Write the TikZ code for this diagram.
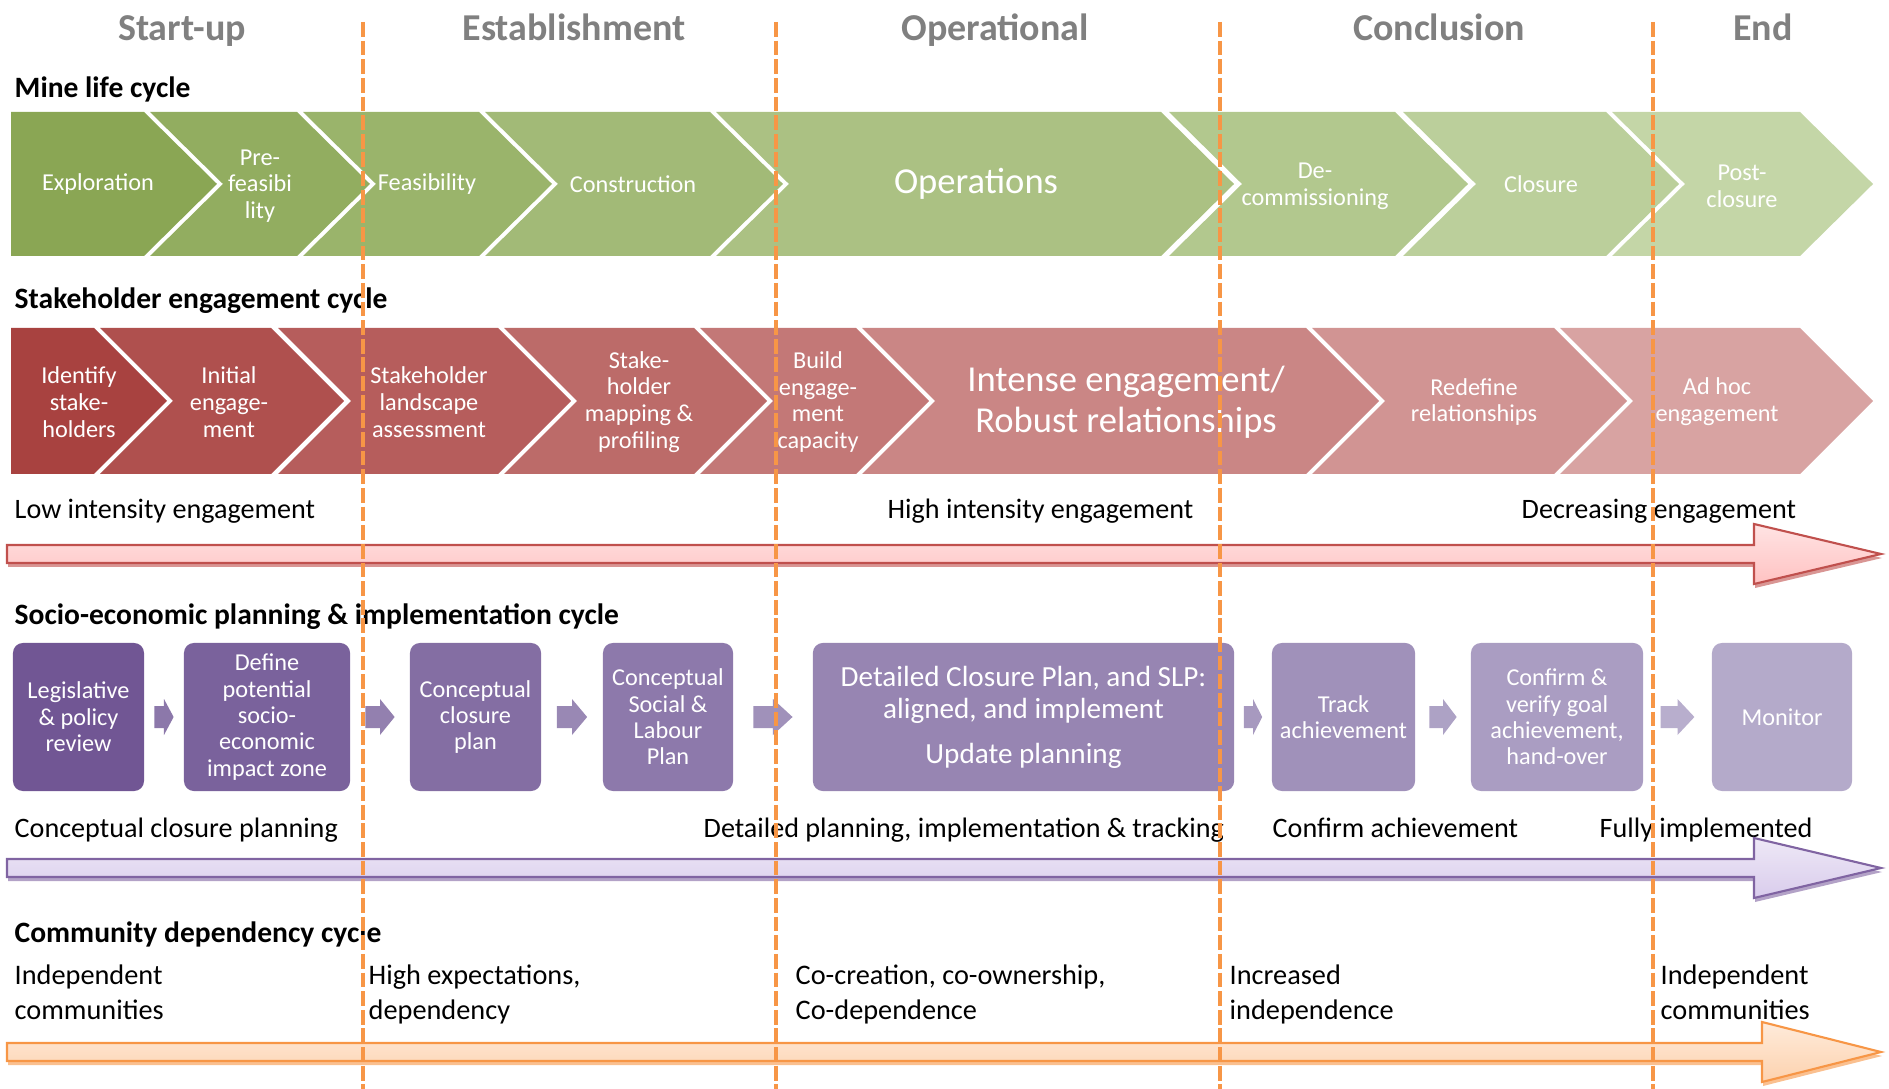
\documentclass[tikz,border=0pt]{standalone}
\usepackage{fontspec}
\setmainfont{Carlito}
\usetikzlibrary{calc}

\definecolor{phasegray}{HTML}{808080}
\definecolor{lineorange}{HTML}{F79646}
\definecolor{gA}{HTML}{8AA654}
\definecolor{gB}{HTML}{C4D6A7}
\definecolor{rA}{HTML}{A84240}
\definecolor{rB}{HTML}{D8A3A2}
\definecolor{pA}{HTML}{715694}
\definecolor{pB}{HTML}{B4AACA}
\definecolor{redfill}{HTML}{FFC2C2}
\definecolor{redline}{HTML}{C0504D}
\definecolor{purfill}{HTML}{D9CCEC}
\definecolor{purline}{HTML}{8064A2}
\definecolor{orafill}{HTML}{FDD2AE}

% chevron: colour, left x, right x, top y, bottom y
\newcommand{\chev}[5]{%
  \fill[#1] (#2,#4) -- (#3,#4) -- ({#3+73},{(#4+#5)/2}) -- (#3,#5) -- (#2,#5)
    -- ({#2+73},{(#4+#5)/2}) -- cycle;}
% first chevron of a band, flat at the left
\newcommand{\chevfirst}[5]{%
  \fill[#1] (#2,#4) -- (#3,#4) -- ({#3+73},{(#4+#5)/2}) -- (#3,#5) -- (#2,#5) -- cycle;}
% small block arrow in the gap between two plan boxes
\newcommand{\steparrow}[3]{%
  \fill[#3] ($(#1.east)!0.25!(#2.west)+(0,-11)$) -- ($(#1.east)!0.5!(#2.west)+(0,-11)$)
    -- ($(#1.east)!0.5!(#2.west)+(0,-18)$) -- ($(#1.east)!0.75!(#2.west)$)
    -- ($(#1.east)!0.5!(#2.west)+(0,18)$) -- ($(#1.east)!0.5!(#2.west)+(0,11)$)
    -- ($(#1.east)!0.25!(#2.west)+(0,11)$) -- cycle;}
% long trend arrow: fill, edge, mid y, head base x
\newcommand{\trend}[4]{%
  \path[fill=#2, opacity=.6, shift={(1,4)}] (7,{#3-9}) -- (#4,{#3-9}) -- (#4,{#3-30})
    -- (1881,#3) -- (#4,{#3+30}) -- (#4,{#3+9}) -- (7,{#3+9}) -- cycle;
  \path[top color=#1!45!white, bottom color=#1, draw=#2, line width=.6pt]
    (7,{#3-9}) -- (#4,{#3-9}) -- (#4,{#3-30})
    -- (1881,#3) -- (#4,{#3+30}) -- (#4,{#3+9}) -- (7,{#3+9}) -- cycle;}

\begin{document}
\begin{tikzpicture}[x=0.01cm, y=-0.01cm,
    phase/.style = {font=\fontsize{10.8}{12}\selectfont\bfseries, text=phasegray, anchor=base, inner sep=0},
    cycle/.style = {font=\fontsize{8.4}{10}\selectfont\bfseries, anchor=base west, inner sep=0},
    note/.style = {font=\fontsize{8}{10}\selectfont, anchor=base west, inner sep=0},
    community/.style = {font=\fontsize{8.05}{10}\selectfont, anchor=north west, align=left, inner sep=0},
    steptext/.style = {font=\fontsize{6.9}{7.6}\selectfont, text=white, align=center, inner sep=0},
    bigtext/.style = {font=\fontsize{10.4}{11.6}\selectfont, text=white, align=center, inner sep=0},
    plan/.style = {rounded corners=0.1cm, minimum height=1.48cm, inner sep=0, text=white,
      align=center, font=\fontsize{6.9}{7.5}\selectfont},
    phaseline/.style = {draw=lineorange, line width=1.1pt, dash pattern=on 4.2pt off 1.1pt}]
  \useasboundingbox (0,0) rectangle (1889,1089);

  % phases
  \node[phase] (startup) at (182,41) {Start-up};
  \node[phase] (establish) at (574,41) {Establishment};
  \node[phase] (operational) at (995,41) {Operational};
  \node[phase] (conclusion) at (1439,41) {Conclusion};
  \node[phase] (end) at (1763,41) {End};

  % mine life cycle
  \node[cycle] (mine) at (14,98) {Mine life cycle};
  \chevfirst{gA}{11}{144}{112}{256}
  \chev{gB!14!gA}{150}{297}{112}{256}
  \chev{gB!28!gA}{303}{479}{112}{256}
  \chev{gB!42!gA}{485}{710}{112}{256}
  \chev{gB!56!gA}{716}{1161}{112}{256}
  \chev{gB!70!gA}{1169}{1395}{112}{256}
  \chev{gB!85!gA}{1403}{1606}{112}{256}
  \chev{gB}{1612}{1800}{112}{256}
  \node[steptext] (explor) at (98,184) {Exploration};
  \node[steptext] (prefeas) at (260,186) {Pre-\\feasibi\\lity};
  \node[steptext] (feas) at (427,184) {Feasibility};
  \node[steptext] (constr) at (633,184) {Construction};
  \node[bigtext] (ops) at (976,184) {Operations};
  \node[steptext] (decom) at (1315,186) {De-\\commissioning};
  \node[steptext] (closure) at (1541,184) {Closure};
  \node[steptext] (postcl) at (1742,186) {Post-\\closure};

  % stakeholder engagement cycle
  \node[cycle] (stake) at (14,309) {Stakeholder engagement cycle};
  \chevfirst{rA}{11}{94}{328}{474}
  \chev{rB!14!rA}{100}{271}{328}{474}
  \chev{rB!28!rA}{278}{498}{328}{474}
  \chev{rB!42!rA}{504}{694}{328}{474}
  \chev{rB!56!rA}{700}{856}{328}{474}
  \chev{rB!70!rA}{862}{1306}{328}{474}
  \chev{rB!85!rA}{1312}{1554}{328}{474}
  \chev{rB}{1560}{1800}{328}{474}
  \node[steptext] (identify) at (79,402) {Identify\\stake-\\holders};
  \node[steptext] (initial) at (229,402) {Initial\\engage-\\ment};
  \node[steptext] (landscape) at (429,402) {Stakeholder\\landscape\\assessment};
  \node[steptext] (mapping) at (639,402) {Stake-\\holder\\mapping \&\\profiling};
  \node[steptext] (build) at (818,402) {Build\\engage-\\ment\\capacity};
  \node[bigtext] (intense) at (1126,402) {Intense engagement/\\Robust relationships};
  \node[steptext] (redefine) at (1474,402) {Redefine\\relationships};
  \node[steptext] (adhoc) at (1717,402) {Ad hoc\\engagement};

  \node[note] (low) at (14,519) {Low intensity engagement};
  \node[note] (high) at (887,519) {High intensity engagement};
  \node[note] (decr) at (1521,519) {Decreasing engagement};
  \trend{redfill}{redline}{554}{1754}

  % socio-economic planning
  \node[cycle] (socio) at (14,625) {Socio-economic planning \& implementation cycle};
  \node[plan, fill=pA, minimum width=1.31cm] (legis) at (78.5,717) {Legislative\\\& policy\\review};
  \node[plan, fill=pB!14!pA, minimum width=1.66cm] (define) at (267,717) {Define\\potential\\socio-\\economic\\impact zone};
  \node[plan, fill=pB!28!pA, minimum width=1.31cm] (ccp) at (475.5,717) {Conceptual\\closure\\plan};
  \node[plan, fill=pB!42!pA, minimum width=1.30cm] (slp) at (668,717) {Conceptual\\Social \&\\Labour\\Plan};
  \node[plan, fill=pB!56!pA, minimum width=4.21cm, font=\fontsize{8.3}{9.2}\selectfont] (detailed) at (1023.5,717)
    {Detailed Closure Plan, and SLP:\\aligned, and implement\\[3.5pt]Update planning};
  \node[plan, fill=pB!70!pA, minimum width=1.43cm] (track) at (1343.5,717) {Track\\achievement};
  \node[plan, fill=pB!85!pA, minimum width=1.72cm] (confirm) at (1557,717) {Confirm \&\\verify goal\\achievement,\\hand-over};
  \node[plan, fill=pB, minimum width=1.40cm] (monitor) at (1782,717) {Monitor};
  \steparrow{legis}{define}{pB!40!pA}
  \steparrow{define}{ccp}{pB!50!pA}
  \steparrow{ccp}{slp}{pB!60!pA}
  \steparrow{slp}{detailed}{pB!70!pA}
  \steparrow{detailed}{track}{pB!80!pA}
  \steparrow{track}{confirm}{pB!90!pA}
  \steparrow{confirm}{monitor}{pB!95!white}

  \node[note] (concept) at (14,837) {Conceptual closure planning};
  \node[note] (detplan) at (703,837) {Detailed planning, implementation \& tracking};
  \node[note] (confach) at (1272,837) {Confirm achievement};
  \node[note] (fully) at (1599,837) {Fully implemented};
  \trend{purfill}{purline}{868}{1754}

  % community dependency cycle
  \node[cycle] (commun) at (14,942) {Community dependency cycle};
  \node[community] (indep) at (14,964) {Independent\\communities};
  \node[community] (expect) at (368,964) {High expectations,\\dependency};
  \node[community] (cocreate) at (795,964) {Co-creation, co-ownership,\\Co-dependence};
  \node[community] (increase) at (1229,964) {Increased\\independence};
  \node[community] (independ) at (1660,964) {Independent\\communities};
  \trend{orafill}{lineorange}{1052}{1762}

  % phase borders
  \draw[phaseline] (363,22) -- (363,1089);
  \draw[phaseline] (776,22) -- (776,1089);
  \draw[phaseline] (1220,22) -- (1220,1089);
  \draw[phaseline] (1653,22) -- (1653,1089);
\end{tikzpicture}
\end{document}
